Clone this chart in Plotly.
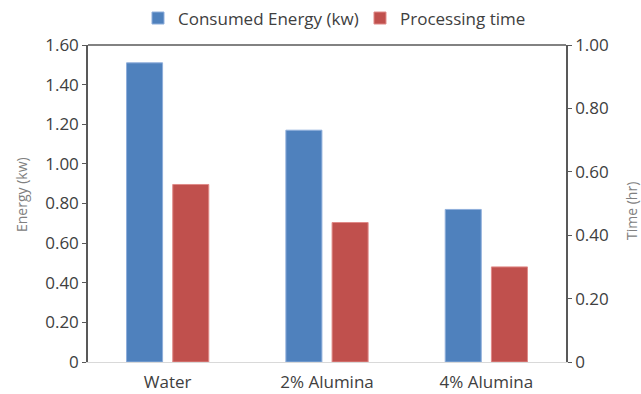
import plotly.graph_objects as go

categories = ["Water", "2% Alumina", "4% Alumina"]
energy_kw = [1.51, 1.17, 0.77]
time_hr = [0.56, 0.44, 0.30]

left_tickvals = [0, 0.2, 0.4, 0.6, 0.8, 1.0, 1.2, 1.4, 1.6]
left_ticktext = ["0", "0.20", "0.40", "0.60", "0.80", "1.00", "1.20", "1.40", "1.60"]
right_tickvals = [0, 0.2, 0.4, 0.6, 0.8, 1.0]
right_ticktext = ["0", "0.20", "0.40", "0.60", "0.80", "1.00"]

FONT = "Open Sans"
TICKCOL = "#404040"

fig = go.Figure()
fig.add_trace(go.Bar(
    x=categories, y=energy_kw, name="Consumed Energy (kw)",
    marker=dict(color="#4F81BD", line=dict(color="#8EAEDB", width=1)),
    offsetgroup="a", yaxis="y",
))
fig.add_trace(go.Bar(
    x=categories, y=time_hr, name="Processing time",
    marker=dict(color="#C0504D", line=dict(color="#E08A88", width=1)),
    offsetgroup="b", yaxis="y2",
))

fig.update_layout(
    template="none",
    width=641, height=394,
    margin=dict(l=88, r=75, t=45, b=32, autoexpand=False),
    paper_bgcolor="white", plot_bgcolor="white",
    barmode="group", bargap=0.42, bargroupgap=0.22,
    font=dict(family=FONT, color=TICKCOL),
    showlegend=True,
    legend=dict(orientation="h", x=0.1046, xanchor="left", y=1.0837, yanchor="middle",
                entrywidth=177, entrywidthmode="pixels",
                font=dict(family=FONT, size=17, color=TICKCOL),
                bgcolor="rgba(0,0,0,0)", itemclick=False),
    xaxis=dict(showline=True, linecolor="#D9D9D9", linewidth=1, ticks="",
               automargin=False, ticklabelstandoff=5,
               tickfont=dict(family=FONT, size=17, color=TICKCOL),
               showgrid=False, zeroline=False),
    yaxis=dict(range=[0, 1.6], tickvals=left_tickvals, ticktext=left_ticktext,
               automargin=False,
               showline=True, linecolor="#595959", linewidth=1.5,
               ticks="outside", ticklen=4, tickcolor="#595959",
               tickfont=dict(family=FONT, size=17, color=TICKCOL),
               showgrid=False, zeroline=False),
    yaxis2=dict(range=[0, 1.0], tickvals=right_tickvals, ticktext=right_ticktext,
                overlaying="y", side="right", automargin=False,
                showline=True, linecolor="#595959", linewidth=1.5,
                ticks="outside", ticklen=4, tickcolor="#595959",
                tickfont=dict(family=FONT, size=17, color=TICKCOL),
                showgrid=False, zeroline=False),
    shapes=[dict(type="line", xref="paper", yref="paper", x0=0, x1=1, y0=1, y1=1,
                 line=dict(color="#595959", width=1.5))],
    annotations=[
        dict(text="Energy (kw)", xref="paper", yref="paper", x=(22 - 88) / 478,
             y=(362 - 195) / 317, xanchor="center", yanchor="middle",
             textangle=-90, showarrow=False,
             font=dict(family=FONT, size=14, color="#808080")),
        dict(text="Time (hr)", xref="paper", yref="paper", x=(631 - 88) / 478,
             y=(362 - 211) / 317, xanchor="center", yanchor="middle",
             textangle=-90, showarrow=False,
             font=dict(family=FONT, size=14, color="#808080")),
    ],
)

fig.write_html("out.html", config={"displayModeBar": False},
               post_script="document.body.style.margin='0';")
